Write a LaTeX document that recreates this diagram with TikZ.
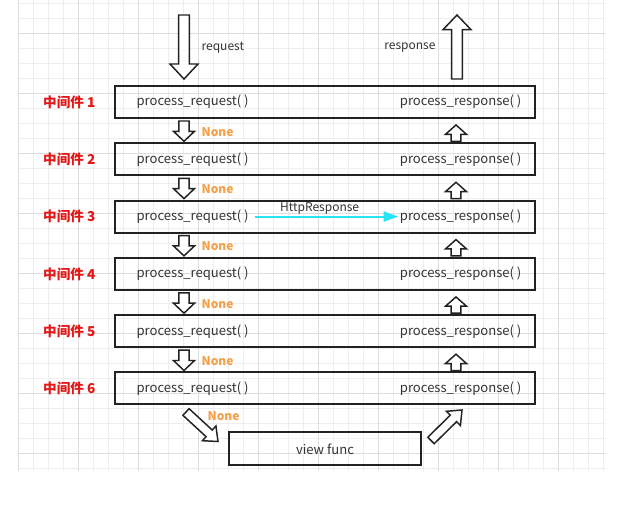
\documentclass[tikz,border=0pt]{standalone}
\usepackage{fontspec}
\setmainfont{Noto Sans CJK SC}
\usetikzlibrary{positioning,calc,arrows.meta}
\definecolor{midred}{RGB}{228,22,22}
\definecolor{noneorange}{RGB}{245,160,72}
\definecolor{hrcyan}{RGB}{40,228,245}
\definecolor{gridminor}{RGB}{238,238,238}
\definecolor{gridmajor}{RGB}{221,221,221}
\definecolor{boxline}{RGB}{34,34,34}
\definecolor{txt}{RGB}{51,51,51}
\tikzset{
		mw/.style = 	{draw=boxline, line width=1.5pt, minimum width=315, minimum height=24, text=txt, font=\fontsize{9.8}{11}\selectfont},
		fn/.style = 	{text=txt, inner sep=1pt, font=\fontsize{9.8}{11}\selectfont},
		lbl/.style = 	{text=txt, inner sep=1pt, font=\fontsize{9}{11}\selectfont},
		mwname/.style = {text=midred, inner sep=1pt, font=\fontsize{10.2}{12}\selectfont\bfseries},
		none/.style = 	{text=noneorange, inner sep=1pt, font=\fontsize{9}{11}\selectfont\bfseries},
		hollow/.style = {draw=boxline, fill=white, line width=1.1pt, line join=miter},
		hr/.style = 	{draw=hrcyan, line width=1.5pt, -{Triangle[length=11pt,width=7.5pt]}}
}
% hollow block arrow: shaft half width, head half width, head length, from, to
\newcommand\hollowarrow[5]{%
  \draw[hollow] let \p1=#4, \p2=#5, \n1={atan2(\y2-\y1,\x2-\x1)}, \n2={veclen(\x2-\x1,\y2-\y1)-#3} in
    [shift={(\p1)}, rotate=\n1] (0pt,-#1) -- (\n2,-#1) -- (\n2,-#2) -- ({\n2+#3},0pt) -- (\n2,#2) -- (\n2,#1) -- (0pt,#1) -- cycle;}

\begin{document}
\begin{tikzpicture}[x=0.75pt, y=-0.75pt]
  \useasboundingbox (0,0) rectangle (637,510);

  % background grid
  \foreach \gx in {18,33,...,603}
    \draw[gridminor, line width=0.5pt] (\gx,0) -- (\gx,471);
  \foreach \gy in {3,18,...,468}
    \draw[gridminor, line width=0.5pt] (18,\gy) -- (606,\gy);
  \foreach \gx in {18,78,...,558}
    \draw[gridmajor, line width=0.6pt] (\gx,0) -- (\gx,471);
  \foreach \gy in {33,93,...,453}
    \draw[gridmajor, line width=0.6pt] (18,\gy) -- (606,\gy);

  \coordinate (dx) at (184,0);
  \coordinate (ux) at (456,0);

  % middleware boxes
  \foreach \i in {1,...,6}
    {\node [mw] (mw\i) at (325,{102+57.3*(\i-1)}) {};
     \node [fn, right=21 of mw\i.west] (req\i) {process\_request( )};
     \node [fn, left=13 of mw\i.east] (resp\i) {process\_response( )};
     \node [mwname, left=17 of mw\i.west] (name\i) {中间件 \i};}

  \node [mw, minimum width=144, minimum height=24.75] (view) at (325,449) {view func};

  % request / response
  \coordinate (reqin) at (184,15);
  \coordinate (respout) at (457,15);
  \hollowarrow{4.1pt}{10.5pt}{11.25pt}{(reqin)}{($(mw1.north -| dx)+(0,-6)$)}
  \hollowarrow{4.1pt}{10.5pt}{11pt}{($(mw1.north -| respout)+(0,-6)$)}{(respout)}
  \node [lbl, anchor=west] (reqlbl) at (200,48) {request};
  \node [lbl, anchor=east] (resplbl) at (437,48) {response};

  % arrows between boxes
  \foreach \i [count=\j from 2] in {1,...,5}
    {\hollowarrow{3.9pt}{7.9pt}{7.5pt}{($(mw\i.south -| dx)+(0,2)$)}{($(mw\j.north -| dx)+(0,-1)$)}
     \hollowarrow{3.6pt}{7.9pt}{7pt}{($(mw\j.north -| ux)+(0,-1)$)}{($(mw\i.south -| ux)+(0,6)$)}
     \node [none, anchor=west] (none\i) at ($(mw\i.south -| dx)+(16,13)$) {None};}

  % short cut
  \draw[hr] ($(req3.east)+(5,0)$) -- (resp3.west) node [lbl, above, pos=0.45] (hrlbl) {HttpResponse};

  % view func
  \coordinate (vtail) at (186,412);
  \coordinate (vout) at (462,410);
  \hollowarrow{3.4pt}{7.5pt}{9pt}{(vtail)}{($(view.north west)+(-10,10)$)}
  \hollowarrow{3.4pt}{7.5pt}{9pt}{($(view.north east)+(9,9)$)}{(vout)}
  \node [none, anchor=west] (none6) at (206,416) {None};

\end{tikzpicture}
\end{document}
